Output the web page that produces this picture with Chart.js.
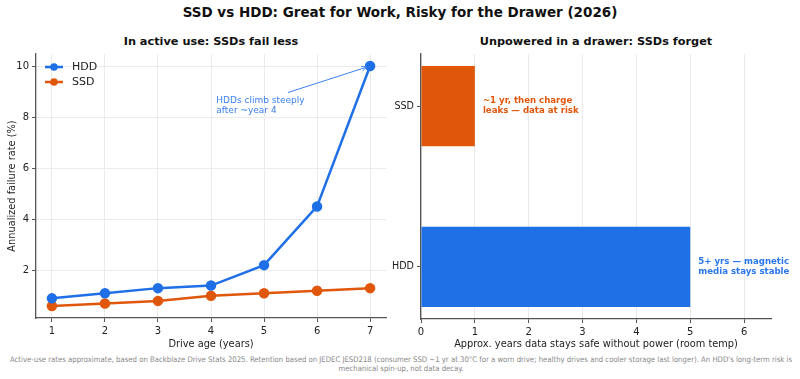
<!DOCTYPE html>
<html lang="en">
<head>
  <meta charset="UTF-8" />
  <title>SSD vs HDD</title>
  <script src="https://cdn.jsdelivr.net/npm/chart.js"></script>
  <style>
    * { box-sizing: border-box; margin: 0; padding: 0; }
    body { width: 800px; height: 379px; background: #fff; font-family: 'DejaVu Sans', sans-serif; position: relative; overflow: hidden; }
    .title { position: absolute; top: 4px; left: 0; width: 800px; text-align: center; font-size: 13.5px; font-weight: bold; color: #111; }
    .subtitle { position: absolute; top: 35px; font-size: 11.3px; font-weight: bold; color: #111; text-align: center; }
    .box { position: absolute; top: 30px; height: 320px; }
    .note { position: absolute; top: 355px; left: 4px; width: 794px; text-align: center; font-family: 'DejaVu Sans Condensed', 'DejaVu Sans', sans-serif; font-size: 7.7px; line-height: 9px; color: #888; }
  </style>
</head>
<body>
  <div class="title">SSD vs HDD: Great for Work, Risky for the Drawer (2026)</div>
  <div class="subtitle" style="left:36px;width:350px">In active use: SSDs fail less</div>
  <div class="subtitle" style="left:421px;width:350px">Unpowered in a drawer: SSDs forget</div>

  <div class="box" style="left:0;width:400px"><canvas id="ageChart" width="400" height="320"></canvas></div>
  <div class="box" style="left:385px;width:415px"><canvas id="drawerChart" width="415" height="320"></canvas></div>

  <div class="note">Active-use rates approximate, based on Backblaze Drive Stats 2025. Retention based on JEDEC JESD218 (consumer SSD ~1 yr at 30°C for a worn drive; healthy drives and cooler storage last longer). An HDD's long-term risk is mechanical spin-up, not data decay.</div>

  <script>
    // data
    const driveAge = [1, 2, 3, 4, 5, 6, 7];
    const hddAfr = [0.9, 1.1, 1.3, 1.4, 2.2, 4.5, 10];
    const ssdAfr = [0.6, 0.7, 0.8, 1.0, 1.1, 1.2, 1.3];
    const afrTicks = [2, 4, 6, 8, 10];

    const drives = ['SSD', 'HDD'];
    const retentionYears = [1, 5];
    const retentionTicks = [0, 1, 2, 3, 4, 5, 6];

    const BLUE = '#1f6fe6';
    const ORANGE = '#e0570b';
    const FONT = "'DejaVu Sans', sans-serif";
    const AXIS = '#555';
    Chart.defaults.font.family = FONT;
    Chart.defaults.color = '#222';

    // legend + annotation for left chart
    const agePlugin = {
      id: 'ageExtras',
      afterDraw(chart) {
        const { ctx, chartArea, scales } = chart;
        ctx.save();
        // legend
        const items = [['HDD', BLUE], ['SSD', ORANGE]];
        items.forEach((it, i) => {
          const y = chartArea.top + 13 + i * 15;
          const x0 = chartArea.left + 9;
          ctx.strokeStyle = it[1];
          ctx.lineWidth = 2.5;
          ctx.beginPath(); ctx.moveTo(x0, y); ctx.lineTo(x0 + 18, y); ctx.stroke();
          ctx.fillStyle = it[1];
          ctx.beginPath(); ctx.arc(x0 + 9, y, 3.8, 0, Math.PI * 2); ctx.fill();
          ctx.fillStyle = '#222';
          ctx.font = '11px ' + FONT;
          ctx.textBaseline = 'middle';
          ctx.fillText(it[0], x0 + 27, y + 0.5);
        });
        // annotation
        const tx = scales.x.getPixelForValue(4.1);
        const ty = scales.y.getPixelForValue(8.66);
        ctx.fillStyle = '#3a80f0';
        ctx.font = '9px ' + FONT;
        ctx.textBaseline = 'middle';
        ctx.fillText('HDDs climb steeply', tx, ty);
        ctx.fillText('after ~year 4', tx, ty + 10);
        const ax = scales.x.getPixelForValue(5.45), ay = scales.y.getPixelForValue(8.96);
        const bx = scales.x.getPixelForValue(7) - 3, by = scales.y.getPixelForValue(10) + 1;
        ctx.strokeStyle = '#3a80f0';
        ctx.lineWidth = 1;
        ctx.beginPath(); ctx.moveTo(ax, ay); ctx.lineTo(bx, by); ctx.stroke();
        const ang = Math.atan2(by - ay, bx - ax);
        ctx.beginPath();
        ctx.moveTo(bx, by);
        ctx.lineTo(bx - 6 * Math.cos(ang - 0.4), by - 6 * Math.sin(ang - 0.4));
        ctx.moveTo(bx, by);
        ctx.lineTo(bx - 6 * Math.cos(ang + 0.4), by - 6 * Math.sin(ang + 0.4));
        ctx.stroke();
        ctx.restore();
      }
    };

    new Chart(document.getElementById('ageChart'), {
      type: 'line',
      data: {
        datasets: [
          { label: 'HDD', data: driveAge.map((x, i) => ({ x, y: hddAfr[i] })), borderColor: BLUE, backgroundColor: BLUE, borderWidth: 2.5, pointRadius: 4, pointHoverRadius: 4 },
          { label: 'SSD', data: driveAge.map((x, i) => ({ x, y: ssdAfr[i] })), borderColor: ORANGE, backgroundColor: ORANGE, borderWidth: 2.5, pointRadius: 4, pointHoverRadius: 4 }
        ]
      },
      options: {
        responsive: false,
        animation: false,
        layout: { padding: { top: 24, right: 14, left: 7, bottom: 0 } },
        plugins: { legend: { display: false }, tooltip: { enabled: false } },
        scales: {
          x: {
            type: 'linear', min: 0.7, max: 7.3,
            afterBuildTicks: s => { s.ticks = driveAge.map(v => ({ value: v })); },
            afterFit: s => { s.height = 32; },
            grid: { color: '#ebebeb', tickColor: AXIS, tickLength: 4 },
            border: { color: AXIS, width: 1.3 },
            ticks: { font: { size: 10 }, padding: 3, maxRotation: 0 },
            title: { display: true, text: 'Drive age (years)', font: { size: 9.8 }, padding: { top: 1, bottom: 0 } }
          },
          y: {
            min: 0.13, max: 10.47,
            afterBuildTicks: s => { s.ticks = afrTicks.map(v => ({ value: v })); },
            afterFit: s => { s.width = 29; },
            grid: { color: '#ebebeb', tickColor: AXIS, tickLength: 4 },
            border: { color: AXIS, width: 1.3 },
            ticks: { font: { size: 10 }, padding: 3 },
            title: { display: true, text: 'Annualized failure rate (%)', font: { size: 9.8 }, padding: { top: 0, bottom: 0 } }
          }
        }
      },
      plugins: [agePlugin]
    });

    // text labels beside bars
    const drawerPlugin = {
      id: 'drawerExtras',
      afterDraw(chart) {
        const { ctx, scales } = chart;
        ctx.save();
        ctx.font = 'bold 8.6px ' + FONT;
        ctx.textBaseline = 'middle';
        ctx.fillStyle = ORANGE;
        let x = scales.x.getPixelForValue(1.15), y = scales.y.getPixelForValue(1);
        ctx.fillText('~1 yr, then charge', x, y - 5);
        ctx.fillText('leaks \u2014 data at risk', x, y + 5);
        ctx.fillStyle = '#2a76ef';
        x = scales.x.getPixelForValue(5.15); y = scales.y.getPixelForValue(0);
        ctx.fillText('5+ yrs \u2014 magnetic', x, y - 5);
        ctx.fillText('media stays stable', x, y + 5);
        ctx.restore();
      }
    };

    new Chart(document.getElementById('drawerChart'), {
      type: 'bar',
      data: {
        datasets: [{
          data: drives.map((d, i) => ({ x: retentionYears[i], y: drives.length - 1 - i })),
          backgroundColor: [ORANGE, BLUE],
          borderWidth: 0,
          barPercentage: 0.5,
          categoryPercentage: 1
        }]
      },
      options: {
        indexAxis: 'y',
        responsive: false,
        animation: false,
        layout: { padding: { top: 24, right: 29, left: 0, bottom: 0 } },
        plugins: { legend: { display: false }, tooltip: { enabled: false } },
        scales: {
          x: {
            type: 'linear', min: 0, max: 6.5, z: 1,
            afterBuildTicks: s => { s.ticks = retentionTicks.map(v => ({ value: v })); },
            afterFit: s => { s.height = 31; },
            grid: { color: 'rgba(230,230,230,0.85)', tickColor: AXIS, tickLength: 4 },
            border: { color: AXIS, width: 1.3 },
            ticks: { font: { size: 10 }, padding: 3, maxRotation: 0 },
            title: { display: true, text: 'Approx. years data stays safe without power (room temp)', font: { size: 9.8 }, padding: { top: 1, bottom: 0 } }
          },
          y: {
            type: 'linear', min: -0.325, max: 1.325, offset: false,
            afterBuildTicks: s => { s.ticks = [0, 1].map(v => ({ value: v })); },
            afterFit: s => { s.width = 36; },
            grid: { offset: false, color: 'rgba(0,0,0,0)', tickColor: AXIS, tickLength: 4 },
            border: { color: AXIS, width: 1.3 },
            ticks: { font: { size: 9.6 }, padding: 3, callback: v => drives[drives.length - 1 - v] }
          }
        }
      },
      plugins: [drawerPlugin]
    });
  </script>
</body>
</html>
